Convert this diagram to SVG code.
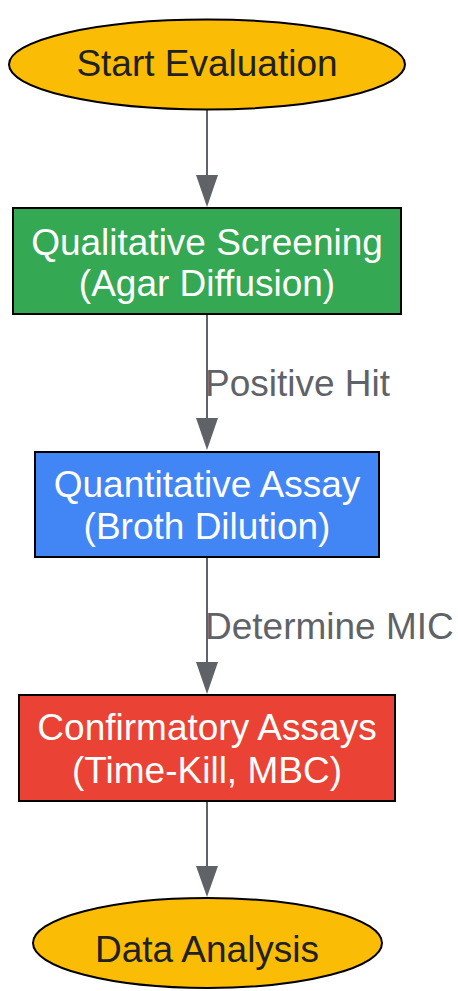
<svg xmlns="http://www.w3.org/2000/svg" width="458" height="991" viewBox="0 0 458 991">
<style>
.n{stroke:#000;stroke-width:2}
.t{font-family:"Liberation Sans",Arial,sans-serif;font-size:37px;text-anchor:middle}
.dk{fill:#202124}
.wt{fill:#ffffff}
.e{stroke:#5f6368;stroke-width:2;fill:none}
.h{fill:#5f6368}
.l{font-family:"Liberation Sans",Arial,sans-serif;font-size:37px;fill:#5f6368}
</style>
<rect width="458" height="991" fill="#ffffff"/>
<g id="edges">
<line class="e" x1="207" y1="110" x2="207" y2="176"/>
<path class="h" d="M196,175 L218,175 L207,207 Z"/>
<line class="e" x1="207" y1="314" x2="207" y2="420"/>
<path class="h" d="M196,418 L218,418 L207,450 Z"/>
<text class="l" x="205" y="396">Positive Hit</text>
<line class="e" x1="207" y1="557" x2="207" y2="663"/>
<path class="h" d="M196,662 L218,662 L207,694 Z"/>
<text class="l" x="205" y="639">Determine MIC</text>
<line class="e" x1="207" y1="801" x2="207" y2="867"/>
<path class="h" d="M196,866 L218,866 L207,897 Z"/>
</g>
<g id="start">
<ellipse class="n" cx="207" cy="64.5" rx="198" ry="45" fill="#FBBC05"/>
<text class="t dk" x="207" y="76">Start Evaluation</text>
</g>
<g id="qual">
<rect class="n" x="13" y="208" width="388" height="106" fill="#34A853"/>
<text class="t wt" x="207" y="255">Qualitative Screening</text>
<text class="t wt" x="207" y="296">(Agar Diffusion)</text>
</g>
<g id="quant">
<rect class="n" x="35" y="452" width="344" height="105" fill="#4285F4"/>
<text class="t wt" x="207" y="497">Quantitative Assay</text>
<text class="t wt" x="207" y="539">(Broth Dilution)</text>
</g>
<g id="confirm">
<rect class="n" x="19" y="695" width="376" height="106" fill="#EA4335"/>
<text class="t wt" x="207" y="740">Confirmatory Assays</text>
<text class="t wt" x="207" y="783">(Time-Kill, MBC)</text>
</g>
<g id="analysis">
<ellipse class="n" cx="207.5" cy="943" rx="174.5" ry="45" fill="#FBBC05"/>
<text class="t dk" x="207" y="962">Data Analysis</text>
</g>
</svg>
